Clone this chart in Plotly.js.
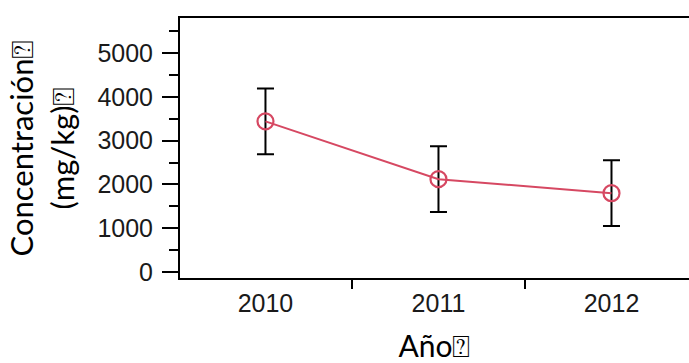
<!DOCTYPE html>
<html>
<head>
<meta charset="utf-8">
<script src="https://cdn.plot.ly/plotly-3.0.1.min.js"></script>
<style>html,body{margin:0;padding:0;overflow:hidden;background:#fff;}</style>
</head>
<body>
<div id="chart" style="width:689px;height:363px;"></div>
<script>
const years = ['2010', '2011', '2012'];
const concentration = [3440, 2120, 1800];
const errorValues = [750, 750, 750];
const yTitleText = 'Concentración\u2370<br>(mg/kg)\u2370';
const xTitleText = 'Año\u2370';

const trace = {
  x: years,
  y: concentration,
  type: 'scatter',
  mode: 'lines+markers',
  line: {color: 'rgb(214,72,98)', width: 2},
  marker: {symbol: 'circle-open', size: 16, color: 'rgb(214,72,98)', line: {width: 2.2, color: 'rgb(214,72,98)'}},
  error_y: {type: 'data', array: errorValues, visible: true, color: '#000', thickness: 2, width: 8.5},
  showlegend: false
};

const layout = {
  width: 689, height: 363,
  margin: {l: 180, r: 0, t: 18, b: 85},
  paper_bgcolor: '#fff', plot_bgcolor: '#fff',
  font: {family: 'Liberation Sans, Arial, sans-serif', color: '#000'},
  xaxis: {
    type: 'category',
    range: [-0.494, 2.448],
    showgrid: false, zeroline: false,
    showline: true, mirror: true, linecolor: '#000', linewidth: 2,
    ticks: '',
    ticklabelstandoff: 2,
    tickfont: {size: 25, family: 'Liberation Sans, Arial, sans-serif', color: '#1a1a1a'},
    title: {text: xTitleText, font: {size: 30, family: 'Lato, sans-serif', color: '#000'}, standoff: 28}
  },
  xaxis2: {
    overlaying: 'x', side: 'bottom', anchor: 'y',
    range: [-0.494, 2.448],
    tickmode: 'array', tickvals: [0.5, 1.5], ticktext: ['', ''],
    ticks: 'outside', ticklen: 10, tickwidth: 2, tickcolor: '#000',
    showticklabels: false, showgrid: false, zeroline: false, showline: false
  },
  yaxis: {
    range: [-136, 5800],
    tickmode: 'linear', tick0: 0, dtick: 1000,
    ticks: 'outside', ticklen: 16, tickwidth: 2, tickcolor: '#000',
    minor: {dtick: 500, tick0: 0, ticks: 'outside', ticklen: 9, tickwidth: 2, tickcolor: '#000', showgrid: false},
    showgrid: false, zeroline: false,
    showline: true, linecolor: '#000', linewidth: 2,
    ticklabelstandoff: 4,
    tickfont: {size: 25, family: 'Liberation Sans, Arial, sans-serif', color: '#1a1a1a'},
    title: {text: yTitleText, font: {size: 31, family: 'Lato, sans-serif', color: '#000'}, standoff: 14}
  }
};

const helper = {x: [0.5, 1.5], y: [null, null], xaxis: 'x2', yaxis: 'y', type: 'scatter', mode: 'markers', showlegend: false, hoverinfo: 'skip'};

Plotly.newPlot('chart', [trace, helper], layout, {displayModeBar: false, staticPlot: true});
</script>
</body>
</html>
